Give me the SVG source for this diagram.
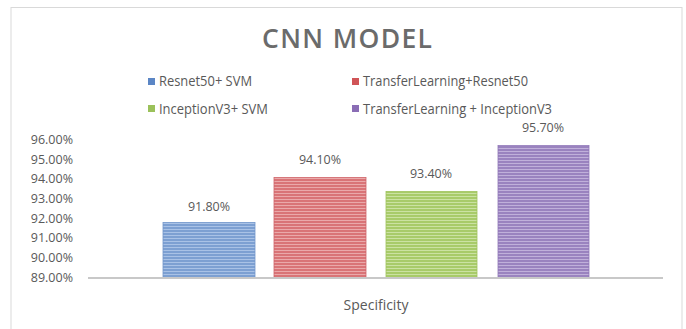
<svg xmlns="http://www.w3.org/2000/svg" width="686" height="329" viewBox="0 0 686 329">
<defs>
<style>
.t{font-family:"Open Sans","Liberation Sans",sans-serif;fill:#595959}
.title{font-size:26.5px;font-weight:600;fill:#6b6b6b}
.lg{font-size:14px}
.ax{font-size:12.5px;text-anchor:end}
.val{font-size:12.5px;text-anchor:middle}
.cat{font-size:14px;text-anchor:middle}
</style>
<pattern id="pb" width="8" height="3" patternUnits="userSpaceOnUse"><rect width="8" height="3" fill="#7da0d2"/><rect y="1" width="8" height="1" fill="#a9c2e6"/></pattern>
<pattern id="pr" width="8" height="3" patternUnits="userSpaceOnUse"><rect width="8" height="3" fill="#d97477"/><rect y="1" width="8" height="1" fill="#eaa9aa"/></pattern>
<pattern id="pg" width="8" height="3" patternUnits="userSpaceOnUse"><rect width="8" height="3" fill="#a8cb69"/><rect y="1" width="8" height="1" fill="#cbe2a2"/></pattern>
<pattern id="pp" width="8" height="3" patternUnits="userSpaceOnUse"><rect width="8" height="3" fill="#9a83bf"/><rect y="1" width="8" height="1" fill="#c0b0da"/></pattern>
</defs>
<rect x="0" y="0" width="686" height="329" fill="#ffffff"/>
<rect x="11" y="7.5" width="671" height="330" fill="none" stroke="#d9d9d9" stroke-width="1"/>
<text class="t title" x="262" y="48" textLength="170" lengthAdjust="spacing">CNN MODEL</text>
<g id="legend">
<rect x="148" y="78" width="7" height="7" fill="#5b86c5"/>
<text class="t lg" x="159" y="86" textLength="93" lengthAdjust="spacingAndGlyphs">Resnet50+ SVM</text>
<rect x="352" y="78" width="7" height="7" fill="#d05457"/>
<text class="t lg" x="363" y="86" textLength="165" lengthAdjust="spacingAndGlyphs">TransferLearning+Resnet50</text>
<rect x="148" y="105" width="7" height="7" fill="#9bc15a"/>
<text class="t lg" x="159" y="114" textLength="109" lengthAdjust="spacingAndGlyphs">InceptionV3+ SVM</text>
<rect x="352" y="105" width="7" height="7" fill="#8a6db5"/>
<text class="t lg" x="363" y="114" textLength="189" lengthAdjust="spacingAndGlyphs">TransferLearning + InceptionV3</text>
</g>
<g id="axis">
<text class="t ax" x="73" y="143.5">96.00%</text>
<text class="t ax" x="73" y="163.5">95.00%</text>
<text class="t ax" x="73" y="182.5">94.00%</text>
<text class="t ax" x="73" y="202.5">93.00%</text>
<text class="t ax" x="73" y="222.5">92.00%</text>
<text class="t ax" x="73" y="241.5">91.00%</text>
<text class="t ax" x="73" y="261.5">90.00%</text>
<text class="t ax" x="73" y="281.5">89.00%</text>
</g>
<g id="bar1">
<rect x="163" y="222.5" width="92" height="55" fill="url(#pb)" stroke="#7397cb" stroke-width="0.8"/>
<text class="t val" x="209" y="211">91.80%</text>
</g>
<g id="bar2">
<rect x="274" y="177.5" width="92" height="100" fill="url(#pr)" stroke="#d0686b" stroke-width="0.8"/>
<text class="t val" x="320" y="164">94.10%</text>
</g>
<g id="bar3">
<rect x="386" y="191.5" width="91" height="86" fill="url(#pg)" stroke="#a0c45e" stroke-width="0.8"/>
<text class="t val" x="431" y="178">93.40%</text>
</g>
<g id="bar4">
<rect x="498" y="145.5" width="91" height="132" fill="url(#pp)" stroke="#9179b8" stroke-width="0.8"/>
<text class="t val" x="543" y="132">95.70%</text>
</g>
<g id="connectors">
<line x1="88" y1="278" x2="663" y2="278" stroke="#c8c8c8" stroke-width="2"/>
</g>
<text class="t cat" x="376" y="310">Specificity</text>
</svg>
